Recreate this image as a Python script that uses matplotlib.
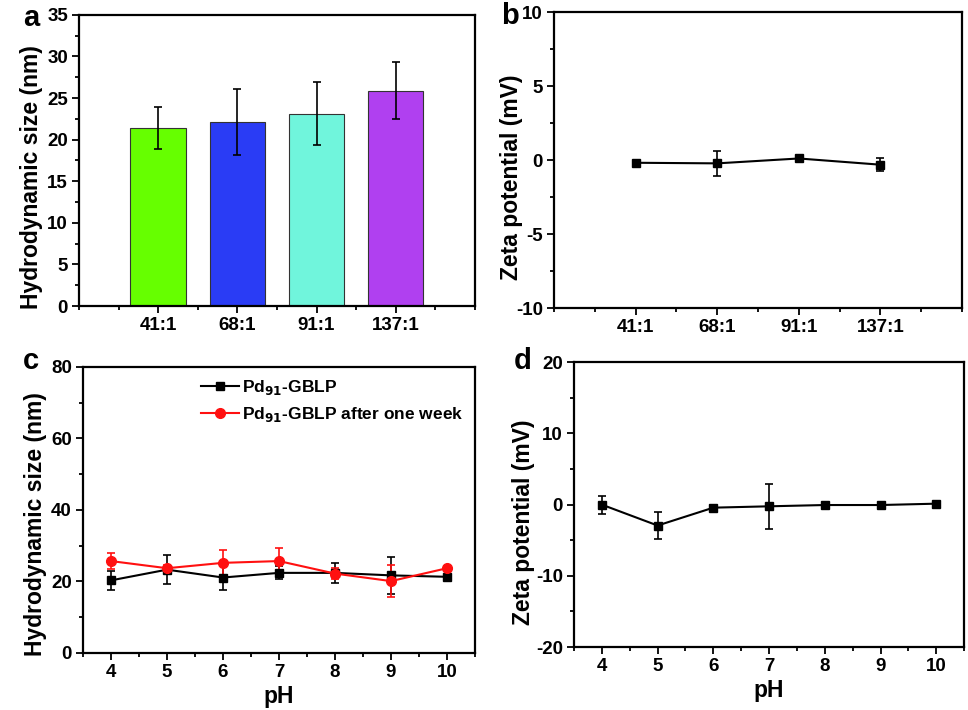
import numpy as np
import matplotlib
matplotlib.use('Agg')
import matplotlib.pyplot as plt
from matplotlib.ticker import MultipleLocator
from matplotlib.lines import Line2D

plt.rcParams['font.family'] = ['Liberation Sans', 'DejaVu Sans']
plt.rcParams['font.weight'] = 'bold'
plt.rcParams['axes.labelweight'] = 'bold'
plt.rcParams['axes.unicode_minus'] = False
plt.rcParams['mathtext.default'] = 'bf'

# panel a / b data (Pd:GBLP ratios)
ratios = ['41:1', '68:1', '91:1', '137:1']
size_a = [21.4, 22.1, 23.1, 25.9]
size_a_err = [2.5, 4.0, 3.8, 3.4]
bar_colors = ['#66ff00', '#2a3cf5', '#70f5dc', '#b040f0']
zeta_b = [-0.18, -0.22, 0.11, -0.31]
zeta_b_err = [0.0, 0.85, 0.0, 0.45]

# panel c / d data (pH)
ph = [4, 5, 6, 7, 8, 9, 10]
size_c = [20.3, 23.3, 21.1, 22.4, 22.4, 21.7, 21.3]
size_c_err = [2.6, 4.1, 3.6, 1.8, 2.7, 5.2, 0.5]
size_c_week = [25.7, 23.7, 25.2, 25.7, 22.2, 20.1, 23.7]
size_c_week_err = [2.2, 1.0, 3.6, 3.6, 1.5, 4.5, 0.5]
zeta_d = [0.0, -2.93, -0.42, -0.23, -0.05, -0.05, 0.14]
zeta_d_err = [1.25, 1.86, 0.2, 3.2, 0.2, 0.2, 0.2]

tick_fs = 13.5
label_fs = 16.5

fig = plt.figure(figsize=(9.68, 7.10), dpi=100)
ax_a = fig.add_axes([0.0816, 0.569, 0.409, 0.41])
ax_b = fig.add_axes([0.5723, 0.566, 0.4215, 0.417])
ax_c = fig.add_axes([0.0857, 0.0803, 0.405, 0.403])
ax_d = fig.add_axes([0.593, 0.0887, 0.403, 0.401])


def style(ax):
    for s in ax.spines.values():
        s.set_linewidth(1.6)
    ax.tick_params(which='both', direction='out', top=False, right=False, width=1.3)
    ax.tick_params(which='major', length=5, labelsize=tick_fs, pad=3)
    ax.tick_params(which='minor', length=3)


x = np.arange(1, len(ratios) + 1)

# a
ax_a.bar(x, size_a, width=0.7, color=bar_colors, edgecolor='#333333', linewidth=0.8)
ax_a.errorbar(x, size_a, yerr=size_a_err, fmt='none', ecolor='black', elinewidth=1.2, capsize=3, capthick=1.2)
ax_a.set_xlim(0, 5)
ax_a.set_ylim(0, 35)
ax_a.set_xticks(x)
ax_a.set_xticklabels(ratios)
ax_a.xaxis.set_minor_locator(MultipleLocator(0.5))
ax_a.yaxis.set_major_locator(MultipleLocator(5))
ax_a.yaxis.set_minor_locator(MultipleLocator(2.5))
ax_a.set_ylabel('Hydrodynamic size (nm)', fontsize=label_fs)
ax_a.yaxis.set_label_coords(-0.09, 0.443)
style(ax_a)

# b
ax_b.errorbar(x, zeta_b, yerr=zeta_b_err, color='black', marker='s', markersize=6, linewidth=1.5,
              elinewidth=1.2, capsize=3, capthick=1.2)
ax_b.set_xlim(0, 5)
ax_b.set_ylim(-10, 10)
ax_b.set_xticks(x)
ax_b.set_xticklabels(ratios)
ax_b.xaxis.set_minor_locator(MultipleLocator(0.5))
ax_b.yaxis.set_major_locator(MultipleLocator(5))
ax_b.yaxis.set_minor_locator(MultipleLocator(2.5))
ax_b.set_ylabel('Zeta potential (mV)', fontsize=label_fs)
ax_b.yaxis.set_label_coords(-0.076, 0.443)
style(ax_b)

# c
ax_c.errorbar(ph, size_c, yerr=size_c_err, color='black', marker='s', markersize=6, linewidth=1.5,
              elinewidth=1.2, capsize=3, capthick=1.2)
ax_c.errorbar(ph, size_c_week, yerr=size_c_week_err, color='#ff1010', marker='o', markersize=7, linewidth=1.5,
              elinewidth=1.2, capsize=3, capthick=1.2)
ax_c.set_xlim(3.5, 10.5)
ax_c.set_ylim(0, 80)
ax_c.set_xticks(ph)
ax_c.xaxis.set_minor_locator(MultipleLocator(0.5))
ax_c.yaxis.set_major_locator(MultipleLocator(20))
ax_c.yaxis.set_minor_locator(MultipleLocator(10))
ax_c.set_ylabel('Hydrodynamic size (nm)', fontsize=label_fs)
ax_c.yaxis.set_label_coords(-0.092, 0.45)
ax_c.set_xlabel('pH', fontsize=label_fs, labelpad=3)
handles = [Line2D([], [], color='black', marker='s', markersize=6, linewidth=1.5),
           Line2D([], [], color='#ff1010', marker='o', markersize=7, linewidth=1.5)]
ax_c.legend(handles, ['Pd$_{91}$-GBLP', 'Pd$_{91}$-GBLP after one week'], loc='upper right',
            frameon=False, handlelength=2.2, handletextpad=0.2,
            labelspacing=0.45, borderaxespad=0.25, prop={'weight': 'bold', 'size': 12.5})
style(ax_c)

# d
ax_d.errorbar(ph, zeta_d, yerr=zeta_d_err, color='black', marker='s', markersize=6, linewidth=1.5,
              elinewidth=1.2, capsize=3, capthick=1.2)
ax_d.set_xlim(3.5, 10.5)
ax_d.set_ylim(-20, 20)
ax_d.set_xticks(ph)
ax_d.xaxis.set_minor_locator(MultipleLocator(0.5))
ax_d.yaxis.set_major_locator(MultipleLocator(10))
ax_d.yaxis.set_minor_locator(MultipleLocator(5))
ax_d.set_ylabel('Zeta potential (mV)', fontsize=label_fs)
ax_d.yaxis.set_label_coords(-0.1, 0.44)
ax_d.set_xlabel('pH', fontsize=label_fs, labelpad=3)
style(ax_d)

# panel letters
for letter, (px, py) in zip('abcd', [(23, 26), (501, 24), (23, 369), (514, 369)]):
    fig.text(px / 968, 1 - py / 710, letter, fontsize=21, fontweight='bold', ha='left', va='baseline')

fig.savefig('out.png', dpi=100)
